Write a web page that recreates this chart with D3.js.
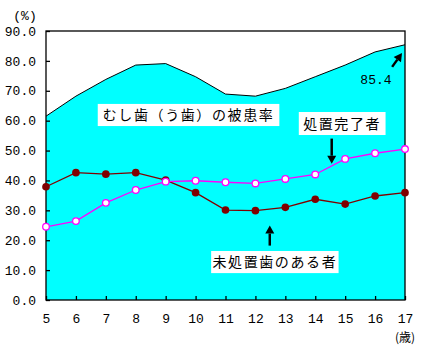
<!DOCTYPE html>
<html><head><meta charset="utf-8">
<script src="https://cdn.jsdelivr.net/npm/d3@7"></script>
<style>body{margin:0;background:#fff}svg{display:block}</style>
</head><body>
<svg id="c" width="423" height="350"></svg>
<script>
const ages = [5,6,7,8,9,10,11,12,13,14,15,16,17];
const cariesRate = [61.5,68.2,73.8,78.6,79.1,74.7,68.9,68.2,70.8,74.7,78.6,83.0,85.4];
const untreated = [37.9,42.6,42.1,42.6,40.1,35.9,30.1,29.9,31.0,33.7,32.1,34.8,35.9];
const treated = [24.5,26.4,32.5,36.8,39.6,39.9,39.4,39.0,40.5,42.0,47.2,49.1,50.5];
const yTicks = [0,10,20,30,40,50,60,70,80,90];
const labels = {area:"むし歯（う歯）の被患率", treated:"処置完了者", untreated:"未処置歯のある者", last:"85.4", unitY:"(%)", unitX:"(歳)"};

const svg = d3.select("#c");
const x = d3.scaleLinear().domain([5,17]).range([46,405]);
const y = d3.scaleLinear().domain([0,90]).range([300,31]);
const jp = "'Noto Sans CJK JP', sans-serif";
const mono = "'Liberation Mono', monospace";

// area
svg.append("path").datum(ages.map((a,i)=>[a,cariesRate[i]]))
  .attr("d", d3.area().x(d=>x(d[0])).y0(y(0)).y1(d=>y(d[1])))
  .attr("fill","#00FFFF");
svg.append("path").datum(ages.map((a,i)=>[a,cariesRate[i]]))
  .attr("d", d3.line().x(d=>x(d[0])).y(d=>y(d[1])))
  .attr("fill","none").attr("stroke","#000").attr("stroke-width",1);

// frame
svg.append("rect").attr("x",x(5)).attr("y",y(90)).attr("width",x(17)-x(5)).attr("height",y(0)-y(90))
  .attr("fill","none").attr("stroke","#000").attr("stroke-width",1.3);

// axes
const ya = svg.append("g").attr("transform",`translate(${x(5)},0)`)
  .call(d3.axisLeft(y).tickValues(yTicks).tickSize(-4).tickPadding(10).tickFormat(d3.format(".1f")));
const xa = svg.append("g").attr("transform",`translate(0,${y(0)})`)
  .call(d3.axisBottom(x).tickValues(ages).tickSize(-4).tickPadding(14).tickFormat(d3.format("d")));
[ya,xa].forEach(g=>{
  g.select(".domain").remove();
  g.selectAll("line").attr("stroke","#000").attr("stroke-width",1.3);
  g.selectAll("text").attr("font-family",mono).attr("font-size",13).attr("fill","#000");
});

// lines
const line = d3.line().x((d,i)=>x(ages[i])).y(d=>y(d));
svg.append("path").datum(untreated).attr("d",line).attr("fill","none").attr("stroke","#800000").attr("stroke-width",1.3);
svg.append("path").datum(treated).attr("d",line).attr("fill","none").attr("stroke","#FF00FF").attr("stroke-width",1.3);
svg.selectAll(".pu").data(untreated).join("path").attr("class","pu")
  .attr("transform",(d,i)=>`translate(${x(ages[i])},${y(d)})`)
  .attr("d",d3.symbol().type(d3.symbolCircle).size(46)).attr("fill","#800000");
svg.selectAll(".pt").data(treated).join("circle").attr("class","pt")
  .attr("cx",(d,i)=>x(ages[i])).attr("cy",d=>y(d)).attr("r",3.3)
  .attr("fill","#fff").attr("stroke","#FF00FF").attr("stroke-width",1.3);

// label boxes
function box(x0,x1,y0,y1,text){
  svg.append("rect").attr("x",x(x0)).attr("y",y(y1)).attr("width",x(x1)-x(x0)).attr("height",y(y0)-y(y1)).attr("fill","#fff");
  svg.append("text").attr("x",(x(x0)+x(x1))/2).attr("y",(y(y0)+y(y1))/2).attr("dy","0.36em")
    .attr("text-anchor","middle").attr("font-family",jp).attr("font-size",14).attr("letter-spacing",1.6)
    .attr("fill","#000").text(text);
}
box(6.73,12.8,58.2,65.6,labels.area);
box(13.45,16.35,55.2,62.9,labels.treated);
box(10.52,14.78,9.0,16.4,labels.untreated);

// arrows
function arrow(xa_,ya_,xb,yb){
  const x1=x(xa_),y1=y(ya_),x2=x(xb),y2=y(yb);
  const ang=Math.atan2(y2-y1,x2-x1), L=8, W=4.5;
  const bx=x2-L*Math.cos(ang), by=y2-L*Math.sin(ang);
  svg.append("line").attr("x1",x1).attr("y1",y1).attr("x2",bx).attr("y2",by).attr("stroke","#000").attr("stroke-width",2.5);
  const px=-Math.sin(ang), py=Math.cos(ang);
  svg.append("path").attr("d",`M${x2},${y2}L${bx+px*W},${by+py*W}L${bx-px*W},${by-py*W}Z`).attr("fill","#000");
}
arrow(14.55,54,14.55,45.6);
arrow(12.48,18.2,12.48,24.9);
arrow(16.57,78.0,16.9,82.6);

svg.append("text").attr("x",x(16.03)).attr("y",y(72.3)).attr("text-anchor","middle")
  .attr("font-family",mono).attr("font-size",13).attr("fill","#000").text(labels.last);
svg.append("text").attr("x",25).attr("y",20).attr("text-anchor","middle")
  .attr("font-family",mono).attr("font-size",13).attr("fill","#000").text(labels.unitY);
svg.append("text").attr("x",405).attr("y",342).attr("text-anchor","middle")
  .attr("font-family",jp).attr("font-size",12).attr("fill","#000").text(labels.unitX);
</script>
</body></html>
